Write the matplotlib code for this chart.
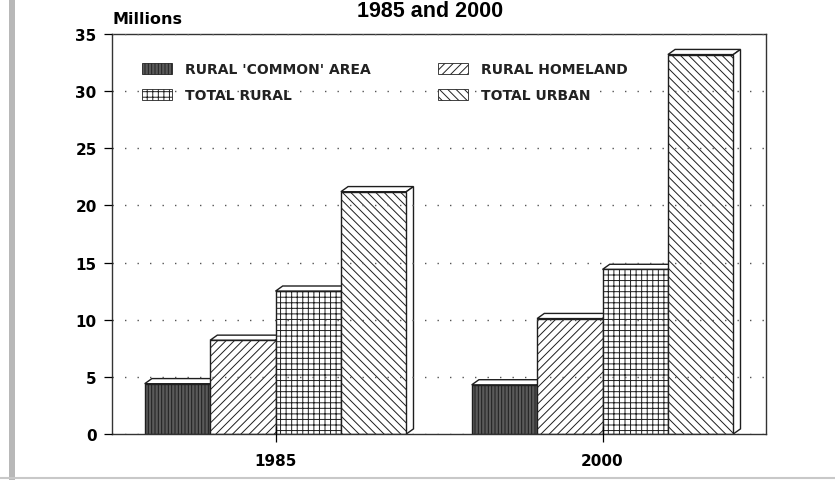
import numpy as np
import matplotlib
matplotlib.use('Agg')
import matplotlib.pyplot as plt
from matplotlib.patches import Patch, Rectangle, Polygon
from matplotlib.lines import Line2D

# Data ------------------------------------------------------------------------

years = ['1985', '2000']
series = ["RURAL 'COMMON' AREA", 'RURAL HOMELAND', 'TOTAL RURAL', 'TOTAL URBAN']
common = [4.4, 4.3]
homeland = [8.2, 10.1]
total_rural = [12.5, 14.4]
total_urban = [21.2, 33.2]

# Style -----------------------------------------------------------------------

FACES = ['#5a5a5a', 'white', 'white', 'white']
HATCHES = ['|||||', '////', '+++', '\\\\\\\\']
BAR_W = 0.2
DX = 0.022   # depth offset in x (data units)
DY = 0.45    # depth offset in y (data units)
EDGE = '#1e1e1e'

plt.rcParams['font.family'] = ['DejaVu Sans']
plt.rcParams['hatch.linewidth'] = 0.7
plt.rcParams['hatch.color'] = '#222222'

fig = plt.figure(figsize=(8.35, 4.81), dpi=100)
ax = fig.add_axes([112 / 835, 46 / 481, 654 / 835, 400 / 481])

values = [common, homeland, total_rural, total_urban]
x = np.arange(len(years))
offsets = (np.arange(len(series)) - 1.5) * BAR_W

for g in range(len(years)):
    for s in range(len(series)):
        h = values[s][g]
        x0 = x[g] + offsets[s] - BAR_W / 2
        x1 = x0 + BAR_W
        # top face
        ax.add_patch(Polygon([(x0, h), (x0 + DX, h + DY), (x1 + DX, h + DY), (x1, h)],
                             closed=True, facecolor='white', edgecolor=EDGE, lw=1.0))
        # right face
        ax.add_patch(Polygon([(x1, 0), (x1 + DX, DY), (x1 + DX, h + DY), (x1, h)],
                             closed=True, facecolor='white', edgecolor=EDGE, lw=1.0))
        # front face
        ax.bar(x[g] + offsets[s], h, width=BAR_W, color=FACES[s], hatch=HATCHES[s],
               edgecolor=EDGE, linewidth=1.0)

ax.set_xlim(-0.5, 1.5)
ax.set_ylim(0, 35)
ax.set_yticks(range(0, 36, 5))
ax.set_xticks(x)
ax.set_xticklabels(years)
ax.tick_params(axis='y', direction='out', length=6, width=0.9, labelsize=11, pad=5)
ax.tick_params(axis='x', direction='inout', length=12, width=0.9, labelsize=11, pad=8)
for lab in ax.get_xticklabels() + ax.get_yticklabels():
    lab.set_fontweight('bold')

ax.set_axisbelow(False)
ax.yaxis.grid(True, linestyle=(0, (1, 8)), color='#555555', linewidth=1.0)
for sp in ax.spines.values():
    sp.set_linewidth(1.0)
    sp.set_color('#333333')

# legend fills columns first: left column common / total rural
order = [0, 2, 1, 3]
handles = [Patch(facecolor=FACES[i], hatch=HATCHES[i], edgecolor='#222222', lw=0.6)
           for i in order]
labels = [series[i] for i in order]
leg = ax.legend(handles, labels, ncol=2, loc='upper left',
                bbox_to_anchor=((142 - 112) / 654, (435 - 63) / 400),
                frameon=False, borderpad=0, borderaxespad=0,
                prop={'size': 10, 'weight': 'bold'},
                handlelength=2.16, handleheight=0.85, handletextpad=0.95,
                columnspacing=4.8, labelspacing=0.9)
for t in leg.get_texts():
    t.set_color('#222222')

fig.text(113 / 835, 1 - 24 / 481, 'Millions', fontsize=11.5, fontweight='bold',
         va='baseline', ha='left')
fig.text(430 / 835, 1 - 17 / 481, '1985 and 2000', fontsize=15.5, fontweight='bold',
         family='Liberation Sans', va='baseline', ha='center')

# scan border
fig.add_artist(Rectangle((9 / 835, 0), 6 / 835, 1, transform=fig.transFigure,
                         color='#b8b8b8', lw=0))
fig.add_artist(Line2D([0, 1], [2 / 481, 2 / 481], transform=fig.transFigure,
                      color='#c8c8c8', lw=1.5))

fig.savefig('out.png', dpi=100)
